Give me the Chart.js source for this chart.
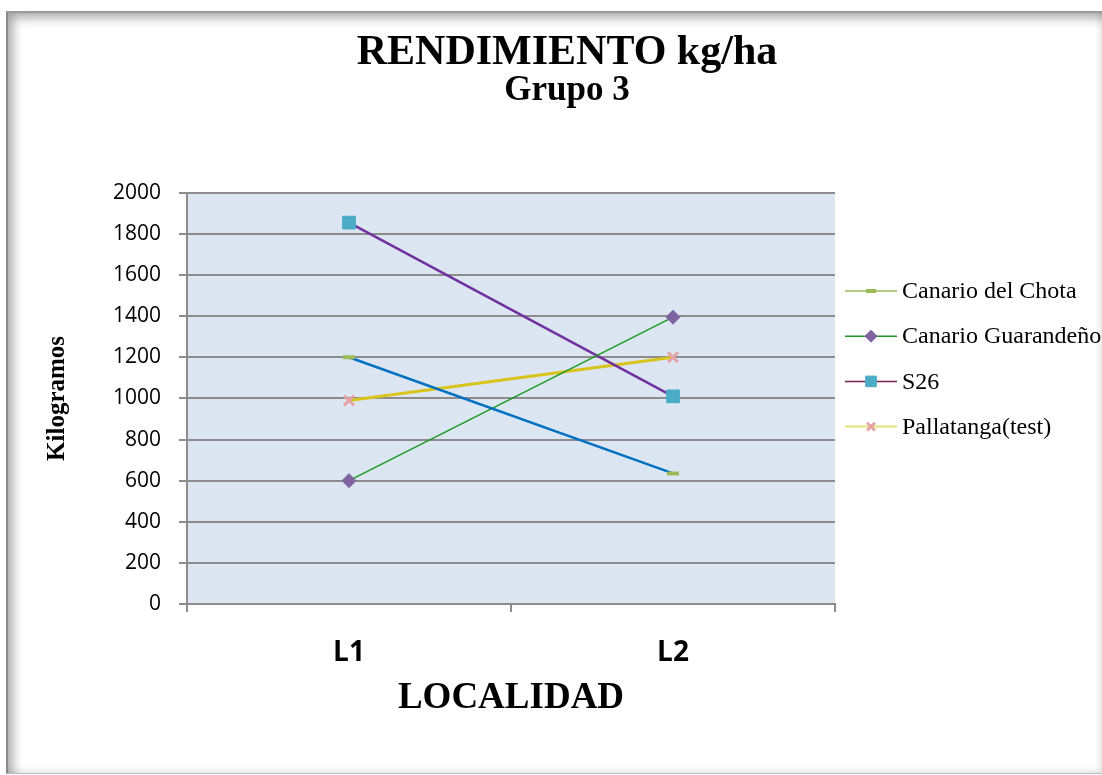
<!DOCTYPE html>
<html>
<head>
<meta charset="utf-8">
<script src="https://cdn.jsdelivr.net/npm/chart.js@4/dist/chart.umd.min.js"></script>
<style>
  html, body { margin: 0; padding: 0; background: #ffffff; }
  #wrap { position: relative; width: 1102px; height: 775px; overflow: hidden; }
  #frame {
    position: absolute; left: 6px; top: 11px; width: 1094px; height: 760px;
    border-left: 2px solid #8a8a8a; border-top: 2px solid #9a9a9a;
    border-right: 1px solid #e2e2e2; border-bottom: 1px solid #bdbdbd;
    box-shadow: inset 9px 9px 12px -5px rgba(0,0,0,0.38), inset -4px -4px 6px -2px rgba(0,0,0,0.12);
    background: #ffffff;
  }
  #c { position: absolute; left: 0; top: 0; }
</style>
</head>
<body>
<div id="wrap">
  <div id="frame"></div>
  <canvas id="c" width="1102" height="775"></canvas>
</div>
<script>
// Localities and yields (kg/ha) per variety
const categories = ['L1', 'L2'];
const canarioChota = [1200, 635];
const canarioGuarandeno = [600, 1395];
const s26 = [1855, 1010];
const pallatanga = [990, 1200];
const seriesNames = ['Canario del Chota', 'Canario Guarandeño', 'S26', 'Pallatanga(test)'];

// Y axis range
const yMin = 0;
const yMax = 2000;
const yStep = 200;

const serif = '"Liberation Serif", "Times New Roman", serif';
const sans = '"Open Sans", "Liberation Sans", sans-serif';

// Plot area fill
const plotBackground = {
  id: 'plotBackground',
  beforeDraw(chart) {
    const { ctx, chartArea: a } = chart;
    ctx.save();
    ctx.fillStyle = '#dce6f2';
    ctx.fillRect(a.left, a.top, a.right - a.left, a.bottom - a.top);
    ctx.restore();
  }
};

// Legend on the right: line sample with marker, then the series name
const sideLegend = {
  id: 'sideLegend',
  afterDraw(chart) {
    const ctx = chart.ctx;
    const x0 = 845, x1 = 897, tx = 902, y0 = 291, dy = 45.2;
    chart.data.datasets.forEach((ds, i) => {
      const y = y0 + i * dy;
      ctx.save();
      ctx.strokeStyle = ds.legendLineColor;
      ctx.lineWidth = ds.legendLineWidth;
      ctx.beginPath();
      ctx.moveTo(x0, y);
      ctx.lineTo(x1, y);
      ctx.stroke();
      ctx.fillStyle = ds.pointBackgroundColor;
      ctx.strokeStyle = ds.pointBorderColor;
      ctx.lineWidth = ds.pointBorderWidth;
      Chart.helpers.drawPoint(ctx, { pointStyle: ds.pointStyle, radius: ds.legendPointRadius, rotation: 0, borderWidth: ds.pointBorderWidth }, (x0 + x1) / 2, y);
      ctx.fillStyle = '#000000';
      ctx.font = '24px ' + serif;
      ctx.textAlign = 'left';
      ctx.textBaseline = 'middle';
      ctx.fillText(ds.label, tx, y + 1);
      ctx.restore();
    });
  }
};

new Chart(document.getElementById('c'), {
  type: 'line',
  data: {
    labels: categories,
    datasets: [
      {
        label: seriesNames[0], data: canarioChota,
        borderColor: '#0070c0', borderWidth: 2.5,
        pointStyle: 'line', pointRadius: 6, pointHoverRadius: 6,
        pointBackgroundColor: '#9bbb59', pointBorderColor: '#9bbb59', pointBorderWidth: 4,
        legendLineColor: '#9bbb59', legendLineWidth: 1.5, legendPointRadius: 5
      },
      {
        label: seriesNames[1], data: canarioGuarandeno,
        borderColor: '#1a9a22', borderWidth: 1.5,
        pointStyle: 'rectRot', pointRadius: 7, pointHoverRadius: 7,
        pointBackgroundColor: '#8064a2', pointBorderColor: '#8064a2', pointBorderWidth: 1,
        legendLineColor: '#1a9a22', legendLineWidth: 1.5, legendPointRadius: 6
      },
      {
        label: seriesNames[2], data: s26,
        borderColor: '#7030a0', borderWidth: 2.5,
        pointStyle: 'rect', pointRadius: 9, pointHoverRadius: 9,
        pointBackgroundColor: '#4bacc6', pointBorderColor: '#4bacc6', pointBorderWidth: 1,
        legendLineColor: '#7a1f4c', legendLineWidth: 1.5, legendPointRadius: 7.5
      },
      {
        label: seriesNames[3], data: pallatanga,
        borderColor: '#d9c41c', borderWidth: 3,
        pointStyle: 'crossRot', pointRadius: 7, pointHoverRadius: 7,
        pointBackgroundColor: '#e6a3a3', pointBorderColor: '#e6a3a3', pointBorderWidth: 3,
        legendLineColor: '#e3e37a', legendLineWidth: 2, legendPointRadius: 5.5
      }
    ]
  },
  options: {
    responsive: false,
    animation: false,
    events: [],
    layout: { padding: { left: 32, right: 0, top: 0, bottom: 57.8 } },
    elements: { line: { tension: 0, fill: false } },
    plugins: {
      legend: { display: false },
      tooltip: { enabled: false },
      title: {
        display: true,
        text: 'RENDIMIENTO kg/ha',
        color: '#000000',
        font: { family: serif, size: 42, weight: 'bold', lineHeight: 0.9 },
        padding: { top: 34, bottom: 0 }
      },
      subtitle: {
        display: true,
        text: 'Grupo 3',
        color: '#000000',
        font: { family: serif, size: 35, weight: 'bold', lineHeight: 0.9 },
        padding: { top: 3, bottom: 86.5 }
      }
    },
    scales: {
      x: {
        type: 'category',
        offset: true,
        afterFit(scale) { scale.height = 113.2; },
        grid: {
          offset: true, drawOnChartArea: false, drawTicks: true,
          tickLength: 8, color: '#8c8c8c', lineWidth: 2
        },
        border: { display: true, color: '#8c8c8c', width: 2 },
        ticks: {
          color: '#000000', padding: 24,
          font: { family: sans, size: 28, weight: 'bold', lineHeight: 1.2 }
        },
        title: {
          display: true, text: 'LOCALIDAD', color: '#000000',
          font: { family: serif, size: 37, weight: 'bold', lineHeight: 1 },
          padding: { top: 12.5, bottom: 0 }
        }
      },
      y: {
        min: yMin, max: yMax,
        afterFit(scale) { scale.width = 155; },
        grid: { color: '#8c8c8c', lineWidth: 2, tickLength: 8, drawTicks: true },
        border: { display: true, color: '#8c8c8c', width: 2 },
        ticks: {
          stepSize: yStep, color: '#000000', padding: 18,
          callback: (v) => String(v),
          font: { family: sans, size: 21, lineHeight: 1.2 }
        },
        title: {
          display: true, text: 'Kilogramos', color: '#000000',
          font: { family: serif, size: 25, weight: 'bold', lineHeight: 1 },
          padding: { top: 13, bottom: 0 }
        }
      },
      // empty right-hand band that keeps room for the legend
      legendBand: {
        type: 'linear', position: 'right', min: yMin, max: yMax,
        afterFit(scale) { scale.width = 267; },
        grid: { display: false, drawOnChartArea: false },
        border: { display: false },
        ticks: { display: false },
        title: { display: false }
      }
    }
  },
  plugins: [plotBackground, sideLegend]
});
</script>
</body>
</html>
